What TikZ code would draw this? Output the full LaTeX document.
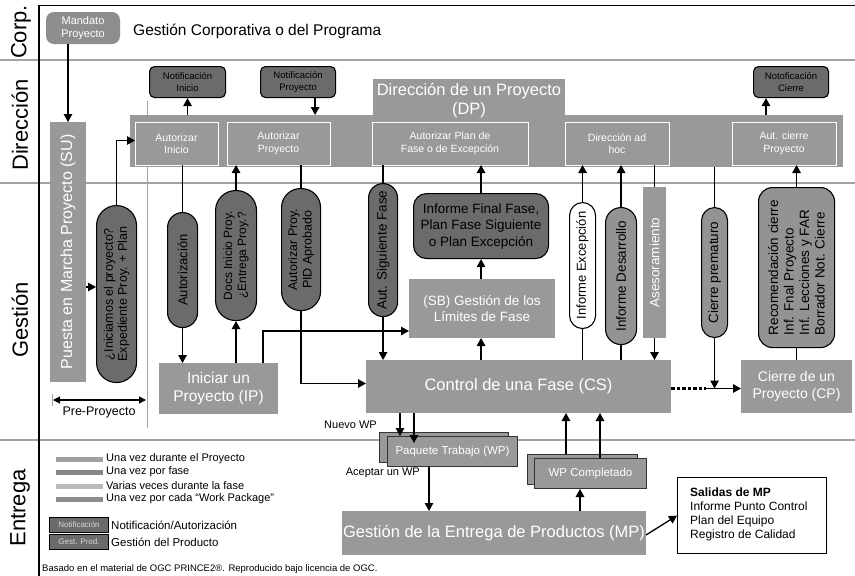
\documentclass[tikz,border=0pt]{standalone}
\usepackage{fontspec}
\setmainfont{Liberation Sans}
\usetikzlibrary{arrows.meta}
\newcommand\fsz[2]{\fontsize{#1pt}{#2pt}\selectfont}
\definecolor{procgrey}{HTML}{999999}
\definecolor{darkgrey}{HTML}{6B6B6B}
\definecolor{midgrey}{HTML}{939393}
\definecolor{lanegrey}{HTML}{A3A3A3}
\definecolor{mandgrey}{HTML}{8E8E8E}
\begin{document}
\begin{tikzpicture}[x=1pt,y=-1pt,
  sz/.style 2 args={minimum width=#1pt, minimum height=#2pt},
  procbox/.style={fill=procgrey, text=white, inner sep=0pt, outer sep=0pt, align=center, anchor=north west},
  innerbox/.style={procbox, draw=white, line width=1pt, font=\fsz{10.5}{12.5}},
  notif/.style={fill=darkgrey, draw=black, line width=1.1pt, rounded corners=5pt, inner sep=0pt, align=center, anchor=north west, font=\fsz{9.5}{12}},
  darkpill/.style={fill=darkgrey, draw=black, line width=1.1pt, inner sep=0pt, anchor=north west},
  midpill/.style={darkpill, fill=midgrey},
  whitepill/.style={darkpill, fill=white},
  vtext/.style={rotate=90, align=center, inner sep=0pt},
  lanelabel/.style={rotate=90, font=\fsz{22}{25}, inner sep=0pt},
  lanesep/.style={draw=lanegrey, line width=1.5pt},
  arr/.style={-{Triangle[length=8pt,width=8.5pt]}, line width=1.3pt},
  link/.style={line width=1.3pt},
  wpbox/.style={fill=procgrey, draw=black!80, line width=1pt, inner sep=0pt, anchor=north west, text=white, font=\fsz{11.5}{13}},
  legbar/.style={line width=5pt},
  legtext/.style={anchor=west, inner sep=0pt, font=\fsz{11}{12}},
  legbox/.style={fill=darkgrey, draw=black, line width=1pt, inner sep=0pt, anchor=north west, text=black!15, font=\fsz{8}{9}, sz={59}{15}}
]
\useasboundingbox (0,0) rectangle (855,576);
\fill[white] (0,0) rectangle (855,576);

% swimlane separators and frame
\draw[lanesep] (0,60) -- (855,60);
\draw[lanesep] (0,183) -- (855,183);
\draw[lanesep] (0,440) -- (855,440);
\draw[line width=1.4pt] (39,576) -- (39,5.5) -- (855,5.5);
\draw[lanegrey, line width=1pt] (147,101) -- (147,428);

% lane titles
\node[lanelabel] (lcorp) at (21,32) {Corp.};
\node[lanelabel] (ldir) at (20,125) {Dirección};
\node[lanelabel] (lges) at (20,320) {Gestión};
\node[lanelabel] (lent) at (20,508) {Entrega};

% corporate lane
\node[procbox, sz={74}{32}, rounded corners=8pt, fill=mandgrey, font=\fsz{11}{13}] (mand) at (46,12) {Mandato\\Proyecto};
\node[anchor=west, inner sep=0pt, font=\fsz{15.5}{17}] (gcp) at (133,31) {Gestión Corporativa o del Programa};

% directing a project
\node[procbox, sz={713}{52}] (dp) at (130,115) {};
\node[procbox, sz={192}{37}] (dptab) at (373,79) {};
\node[text=white, align=center, inner sep=0pt, font=\fsz{16.5}{19}] (dptitle) at (469,101) {Dirección de un Proyecto\\(DP)};

\node[innerbox, sz={83}{43}] (ai) at (135,122) {Autorizar\\Inicio};
\node[innerbox, sz={103}{43}] (ap) at (227,122) {Autorizar\\Proyecto};
\node[innerbox, sz={156}{43}] (apf) at (372,122) {Autorizar Plan de\\Fase o de Excepción};
\node[innerbox, sz={104}{43}] (dah) at (565,122) {Dirección ad\\hoc};
\node[innerbox, sz={104}{43}] (acp) at (732,122) {Aut. cierre\\Proyecto};

\node[notif, sz={76}{31}] (ni) at (149,66) {Notificación\\Inicio};
\node[notif, sz={75}{31}] (np) at (260,66) {Notificación\\Proyecto};
\node[notif, sz={75}{31}] (nc) at (753,66) {Notoficación\\Cierre};

\draw[arr] (ni.south |- dp.north) -- (ni.south);
\draw[arr] ([xshift=-21pt]np.south east) coordinate (npa) -- (npa |- dp.north) ;
\draw[arr] ([xshift=13pt]nc.south west |- dp.north) -- ([xshift=13pt]nc.south west);

% starting up
\node[procbox, sz={36}{260}] (su) at (50,122) {};
\node[vtext, text=white, font=\fsz{16}{18}] (sutxt) at (su) {Puesta en Marcha Proyecto (SU)};
\draw[arr] (su.north |- mand.south) -- (su.north);

\node[darkpill, sz={40}{177}, rounded corners=20pt] (inic) at (96,205) {};
\node[vtext, font=\fsz{12.5}{14}] (inictxt) at (inic) {¿Iniciamos el proyecto?\\Expediente Proy. + Plan};
\draw[arr] (su.east |- 0,287) -- (inic.west |- 0,287);
\draw[arr] (inic.north) |- ([yshift=3pt]ai.west);

% pre-project span
\draw[lanegrey, line width=1pt] (52,394) -- (52,406);
\draw[{Triangle[length=7pt,width=7pt]}-{Triangle[length=7pt,width=7pt]}, line width=1.2pt] (53,400) -- (146,400);
\node[inner sep=0pt, font=\fsz{12.5}{14}] (preproy) at (99,412) {Pre-Proyecto};

% initiating a project
\node[procbox, sz={119}{51}, font=\fsz{15.5}{18}] (ip) at (159,363) {Iniciar un\\Proyecto (IP)};

\node[darkpill, sz={30}{115}, rounded corners=15pt] (autz) at (167,212) {};
\node[vtext, font=\fsz{13}{15}] (autztxt) at (autz) {Autorización};
\draw[link] (autz.north |- ai.south) -- (autz.north);
\draw[arr] (autz.south) -- (autz.south |- ip.north);

\node[darkpill, sz={41}{130}, rounded corners=20pt] (docs) at (215,190) {};
\node[vtext, font=\fsz{12}{14}] (docstxt) at (docs) {Docs Inicio Proy.\\¿Entrega Proy.?};
\draw[arr] (docs.south |- ip.north) -- (docs.south);
\draw[arr] (docs.north) -- (docs.north |- ap.south);

\node[darkpill, sz={39}{122}, rounded corners=19pt] (pid) at (281,188) {};
\node[vtext, font=\fsz{12.5}{14.5}] (pidtxt) at (pid) {Autorizar Proy.\\PID Aprobado};
\draw[link] (pid.north |- ap.south) -- (pid.north);

% controlling a stage and stage boundaries
\node[procbox, sz={305}{53}, font=\fsz{16.5}{19}] (cs) at (366,360) {Control de una Fase (CS)};
\node[procbox, sz={146}{59}, font=\fsz{13.5}{16}] (sb) at (409,279) {(SB) Gestión de los\\Límites de Fase};

\draw[arr] (pid.south) |- ([yshift=3pt]cs.west);
\draw[arr] ([xshift=-15pt]ip.north east) |- ([yshift=7pt]sb.south west);

\node[darkpill, sz={29}{133}, rounded corners=14.5pt] (asf) at (368,183) {};
\node[vtext, font=\fsz{13.5}{15}] (asftxt) at (asf) {Aut. Siguiente Fase};
\draw[link] (asf.north |- apf.south) -- (asf.north);
\draw[arr] (asf.south) -- (asf.south |- cs.north);

\node[darkpill, sz={135}{65}, rounded corners=13pt, align=center, font=\fsz{13.5}{16.5}] (ifp) at (413,193) {Informe Final Fase,\\Plan Fase Siguiente\\o Plan Excepción};
\draw[arr] (ifp.north) -- (ifp.north |- apf.south);
\draw[arr] (ifp.south |- sb.north) -- (ifp.south);
\draw[arr] (ifp.south |- cs.north) -- (ifp.south |- sb.south);

% ad hoc direction
\node[whitepill, sz={26}{126}, rounded corners=13pt] (ie) at (569,202) {};
\node[vtext, font=\fsz{13}{15}] (ietxt) at (ie) {Informe Excepción};
\draw[link] (ie.south |- cs.north) -- (ie.south);
\draw[arr] (ie.north) -- (ie.north |- dah.south);

\node[midpill, sz={31}{137}, rounded corners=15.5pt] (idv) at (605,207) {};
\node[vtext, font=\fsz{13.5}{15}] (idvtxt) at (idv) {Informe Desarrollo};
\draw[link] (idv.south |- cs.north) -- (idv.south);
\draw[arr] (idv.north) -- (idv.north |- dah.south);

\node[procbox, sz={23}{151}] (ase) at (643,187) {};
\node[vtext, text=white, font=\fsz{13.5}{15}] (asetxt) at (ase) {Asesoramiento};
\draw[link] (ase.north |- dah.south) -- (ase.north);
\draw[arr] (ase.south) -- (ase.south |- cs.north);

% closing a project
\node[procbox, sz={111}{53}, font=\fsz{14}{17}] (cp) at (741,360) {Cierre de un\\Proyecto (CP)};

\node[midpill, sz={26}{130}, rounded corners=13pt] (cpm) at (701,207) {};
\node[vtext, font=\fsz{13.5}{15}] (cpmtxt) at (cpm) {Cierre prematuro};
\draw[link] (cpm.north |- dp.south) -- (cpm.north);
\draw[arr] (cpm.south) -- ([yshift=-2pt]cpm.south |- cs.east);
\draw[line width=2.6pt, dash pattern=on 3.5pt off 2pt] ([yshift=-2pt]cs.east) -- ([xshift=-9pt,yshift=-2pt]cpm.south |- cs.east);
\draw[arr] ([xshift=-9pt,yshift=-2pt]cpm.south |- cs.east) -- ([yshift=-2pt]cp.west);

\node[midpill, sz={76}{160}, rounded corners=14pt] (rec) at (758,187) {};
\node[vtext, align=left, font=\fsz{13.5}{15.5}] (rectxt) at (rec) {Recomendación cierre\\Inf. Fnal Proyecto\\Inf. Lecciones y FAR\\Borrador Not. Cierre};
\draw[link] (rec.south |- cp.north) -- (rec.south);
\draw[arr] (rec.north) -- (rec.north |- acp.south);

% managing product delivery
\node[wpbox, sz={129}{30}] (wpb) at (379,432) {};
\node[wpbox, sz={130}{30}] (wpf) at (387,436) {Paquete Trabajo (WP)};
\node[wpbox, sz={110}{30}] (wcb) at (527,454) {};
\node[wpbox, sz={112}{30}] (wcf) at (534,458) {WP Completado};
\node[procbox, sz={304}{44}, font=\fsz{16.5}{19}] (mp) at (342,511) {Gestión de la Entrega de Productos (MP)};

\draw[arr] ([xshift=34pt]cs.south west) coordinate (nw1) -- (nw1 |- wpf.north);
\draw[arr] ([xshift=48pt]cs.south west) coordinate (nw2) -- ([yshift=-7pt]nw2 |- wpf.north);
\node[anchor=east, inner sep=0pt, font=\fsz{11}{12}] (nuevo) at (377,425) {Nuevo WP};
\draw[arr] ([xshift=42pt]wpf.south west) coordinate (acc) -- (acc |- mp.north);
\node[anchor=east, inner sep=0pt, font=\fsz{11}{12}] (aceptar) at (420,473) {Aceptar un WP};

\draw[arr] ([xshift=39pt]wcb.north west) coordinate (wc1) -- (wc1 |- cs.south);
\draw[arr] ([xshift=66pt]wcf.north west) coordinate (wc2) -- (wc2 |- cs.south);
\draw[arr] ([xshift=46pt]wcf.south west |- mp.north) -- ([xshift=46pt]wcf.south west);

\node[draw=black, line width=1.2pt, fill=white, anchor=north west, sz={149}{76}, inner sep=0pt] (sal) at (677,477) {};
\node[anchor=north west, align=left, inner sep=0pt, font=\fsz{12}{14}] (saltxt) at (690,488) {\textbf{Salidas de MP}\\Informe Punto Control\\Plan del Equipo\\Registro de Calidad};
\draw[arr] ([yshift=-2pt]mp.east) -- (sal.west);

% legend
\draw[legbar, draw=black!37] (56,459) -- (103,459);
\draw[legbar, draw=black!47] (56,472) -- (103,472);
\draw[legbar, draw=black!27] (56,486) -- (103,486);
\draw[legbar, draw=black!45] (56,499) -- (103,499);
\node[legtext] (lg1) at (106,459) {Una vez durante el Proyecto};
\node[legtext] (lg2) at (106,472) {Una vez por fase};
\node[legtext] (lg3) at (106,486) {Varias veces durante la fase};
\node[legtext] (lg4) at (106,499) {Una vez por cada “Work Package”};
\node[legbox] (lb1) at (49,517) {Notificación};
\node[legbox] (lb2) at (49,534) {Gest. Prod.};
\node[legtext, font=\fsz{11.5}{12}] (lg5) at (111,525) {Notificación/Autorización};
\node[legtext, font=\fsz{11.5}{12}] (lg6) at (111,542) {Gestión del Producto};

\node[anchor=west, inner sep=0pt, font=\fsz{9.5}{11}] (foot) at (42,569) {Basado en el material de OGC PRINCE2®. Reproducido bajo licencia de OGC.};
\end{tikzpicture}
\end{document}
